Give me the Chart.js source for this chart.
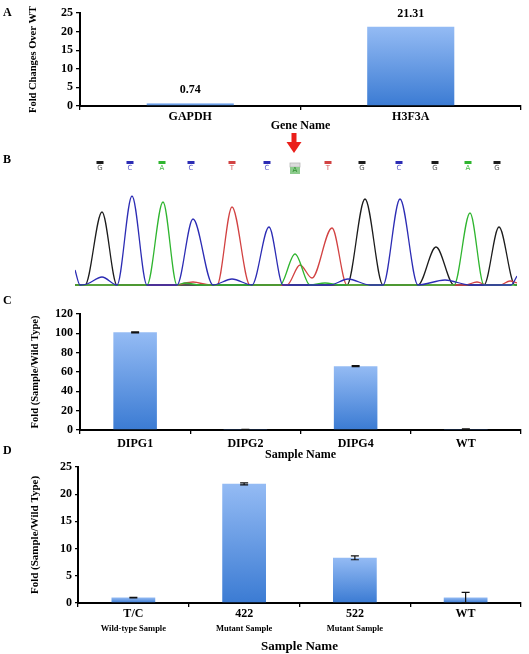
<!DOCTYPE html>
<html><head><meta charset="utf-8">
<script src="https://cdn.jsdelivr.net/npm/chart.js@4.4.1/dist/chart.umd.min.js"></script>
<style>
html,body{margin:0;padding:0;background:#fff;}
body{width:529px;height:654px;position:relative;overflow:hidden;}
canvas{position:absolute;left:0;}
.lbl{position:absolute;left:3px;font:bold 12px "Liberation Serif",serif;line-height:14px;color:#000;}
</style></head><body>
<canvas id="cA" width="529" height="134" style="top:0px"></canvas>
<canvas id="cB" width="529" height="162" style="top:130px"></canvas>
<canvas id="cC" width="529" height="163" style="top:300px"></canvas>
<canvas id="cD" width="529" height="199" style="top:455px"></canvas>
<div class="lbl" style="top:5px">A</div>
<div class="lbl" style="top:152px">B</div>
<div class="lbl" style="top:293px">C</div>
<div class="lbl" style="top:443px">D</div>
<script>
// ---------- Panel A data ----------
const geneNames = ['GAPDH', 'H3F3A'];
const geneFold = [0.74, 21.31];

// ---------- Panel B data (chromatogram, scan position vs. signal %) ----------
const baseCalls   = ['G','C','A','C','T','C','A','T','G','C','G','A','G'];
const baseCallPos = [25, 55, 87, 116, 157, 192, 220, 253, 287, 324, 360, 393, 422];
const mutationIndex = 6;
const traceG = [[0,1],[10,1],[27,74],[42,1],[100,1],[272,1],[290,87],[308,1],[343,1],[361,39],[379,1],[409,1],[424,59],[440,1],[442,1]];
const traceC = [[0,16],[5,1],[12,2],[27,9],[42,1],[57,90],[72,1],[102,1],[118,67],[138,1],[157,7],[177,1],[194,59],[208,1],[255,1],[273,7],[295,1],[308,1],[325,87],[343,1],[370,6],[395,1],[436,1],[442,10]];
const traceA = [[0,1],[72,1],[88,84],[102,1],[110,3],[125,1],[205,1],[220,32],[235,1],[250,3],[265,1],[379,1],[395,73],[409,1],[442,1]];
const traceT = [[0,1],[100,1],[118,4],[135,1],[142,1],[157,79],[175,1],[212,1],[225,21],[237,8],[257,58],[272,1],[390,1],[402,4],[412,1],[425,1],[435,5],[442,3]];

// ---------- Panel C data ----------
const dipgSamples = ['DIPG1', 'DIPG2', 'DIPG4', 'WT'];
const dipgFold = [101, 0.4, 66, 1];
const dipgErr  = [0.6, 0.2, 0.5, 0.3];

// ---------- Panel D data ----------
const tcSamples   = ['T/C', '422', '522', 'WT'];
const tcSubLabels = ['Wild-type Sample', 'Mutant Sample', 'Mutant Sample', ''];
const tcFold = [1.0, 21.9, 8.3, 1.0];
const tcErr  = [0.05, 0.2, 0.35, 0.95];

const F = '"Liberation Serif", "Times New Roman", serif';

function barGradient(c) {
  const chart = c.chart;
  if (!chart.chartArea || c.type !== 'data') return '#5b8fdc';
  const y = chart.scales.y;
  const top = y.getPixelForValue(c.raw), bot = y.getPixelForValue(0);
  if (!isFinite(top) || bot - top < 1) return '#4f84d8';
  const g = chart.ctx.createLinearGradient(0, top, 0, bot);
  g.addColorStop(0, '#94bbf4');
  g.addColorStop(1, '#3b7bd3');
  return g;
}

const errorBars = {
  id: 'errorBars',
  afterDatasetsDraw(chart, args, opts) {
    const errs = opts.errors; if (!errs) return;
    const meta = chart.getDatasetMeta(0), y = chart.scales.y, ctx = chart.ctx;
    const vals = chart.data.datasets[0].data;
    ctx.save(); ctx.strokeStyle = '#111'; ctx.lineWidth = 1.2;
    meta.data.forEach((bar, i) => {
      const yt = y.getPixelForValue(vals[i] + errs[i]);
      const yb = y.getPixelForValue(Math.max(0, vals[i] - errs[i]));
      const x = bar.x;
      ctx.beginPath();
      ctx.moveTo(x, yt); ctx.lineTo(x, yb);
      ctx.moveTo(x - 4, yt); ctx.lineTo(x + 4, yt);
      ctx.moveTo(x - 4, yb); ctx.lineTo(x + 4, yb);
      ctx.stroke();
    });
    ctx.restore();
  }
};

const valueLabels = {
  id: 'valueLabels',
  afterDatasetsDraw(chart) {
    const meta = chart.getDatasetMeta(0), ctx = chart.ctx;
    const vals = chart.data.datasets[0].data;
    ctx.save();
    ctx.font = 'bold 12px ' + F; ctx.fillStyle = '#000';
    ctx.textAlign = 'center'; ctx.textBaseline = 'middle';
    meta.data.forEach((b, i) => ctx.fillText(vals[i].toFixed(2), b.x, b.y - 13));
    ctx.restore();
  }
};

function yAxis(max, step, title, titleSize, width, titlePad, tickLen) {
  return {
    min: 0, max: max,
    ticks: { stepSize: step, color: '#000', font: { family: F, size: 12, weight: 'bold' }, padding: 3 },
    grid: { display: true, drawOnChartArea: false, drawTicks: true, tickLength: tickLen, color: '#000', lineWidth: 1.3 },
    border: { display: true, color: '#000', width: 2 },
    title: { display: true, text: title, color: '#000', font: { family: F, size: titleSize, weight: 'bold' }, padding: { top: titlePad, bottom: 0 } },
    afterFit(s) { s.width = width; }
  };
}
function xAxis(height, tickPad, title, titleSize, titlePadBottom) {
  const o = {
    offset: true, z: 1,
    ticks: { color: '#000', font: { family: F, size: 12, weight: 'bold' }, padding: tickPad, maxRotation: 0, autoSkip: false },
    grid: { display: true, drawOnChartArea: false, drawTicks: true, tickLength: 4, color: '#000', lineWidth: 1.3, offset: true },
    border: { display: true, color: '#000', width: 2 },
    afterFit(s) { s.height = height; }
  };
  if (title) o.title = { display: true, text: title, color: '#000', font: { family: F, size: titleSize, weight: 'bold' }, padding: { top: 0, bottom: titlePadBottom } };
  else o.title = { display: false };
  return o;
}
const common = { responsive: false, animation: false, events: [] };
const barDs = (data) => ({ data: data, backgroundColor: barGradient, borderWidth: 0, categoryPercentage: 1, barPercentage: 0.395 });

// ---------- Panel A ----------
new Chart(document.getElementById('cA'), {
  type: 'bar',
  data: { labels: geneNames, datasets: [barDs(geneFold)] },
  options: Object.assign({}, common, {
    layout: { padding: { left: 0, right: 8, top: 13, bottom: 0 } },
    scales: {
      x: xAxis(28, 0, 'Gene Name', 12, 1),
      y: yAxis(25, 5, 'Fold Changes Over WT', 10.5, 80, 27, 4)
    },
    plugins: { legend: { display: false }, tooltip: { enabled: false } }
  }),
  plugins: [valueLabels]
});

// ---------- Panel B ----------
const baseColors = { G: '#1c1c1c', C: '#2c2cb4', A: '#2fb52f', T: '#d24242' };
const letterColors = { G: '#555555', C: '#5a5ac8', A: '#3fb83f', T: '#d65a5a' };
const traces = [['C', traceC], ['A', traceA], ['T', traceT], ['G', traceG]];
const baseCallPlugin = {
  id: 'baseCalls',
  afterDraw(chart) {
    const ctx = chart.ctx, xs = chart.scales.x;
    ctx.save();
    ctx.textAlign = 'center'; ctx.textBaseline = 'middle';
    ctx.font = '7px "DejaVu Sans", sans-serif';
    baseCalls.forEach((b, i) => {
      const x = Math.round(xs.getPixelForValue(baseCallPos[i]));
      if (i === mutationIndex) {
        ctx.fillStyle = '#dcdcdc'; ctx.fillRect(x - 5, 33, 10, 4);
        ctx.strokeStyle = '#b8b8b8'; ctx.lineWidth = 0.8; ctx.strokeRect(x - 5, 33, 10, 4);
        ctx.fillStyle = '#8ccb8c'; ctx.fillRect(x - 5, 37, 10, 7);
        ctx.fillStyle = '#2f8f2f'; ctx.fillText(b, x, 40.5);
      } else {
        ctx.fillStyle = baseColors[b]; ctx.fillRect(x - 3.5, 31, 7, 3);
        ctx.fillStyle = letterColors[b]; ctx.fillText(b, x, 38);
      }
    });
    // red arrow over the mutated base
    const ax = xs.getPixelForValue(baseCallPos[mutationIndex]) - 1;
    ctx.fillStyle = '#ea1f1a';
    ctx.fillRect(ax - 2.5, 3, 5, 11);
    ctx.beginPath(); ctx.moveTo(ax - 7.5, 12); ctx.lineTo(ax + 7.5, 12); ctx.lineTo(ax, 23); ctx.closePath(); ctx.fill();
    ctx.restore();
  }
};
new Chart(document.getElementById('cB'), {
  type: 'line',
  data: {
    datasets: traces.map(([b, t]) => ({
      data: t.map(p => ({ x: p[0], y: p[1] })),
      borderColor: baseColors[b], borderWidth: 1.3, pointRadius: 0,
      cubicInterpolationMode: 'monotone', fill: false
    }))
  },
  options: Object.assign({}, common, {
    layout: { padding: { left: 75, right: 12, top: 56, bottom: 6 } },
    scales: {
      x: { type: 'linear', min: 0, max: 442, display: false },
      y: { min: 0, max: 100, display: false }
    },
    plugins: { legend: { display: false }, tooltip: { enabled: false } }
  }),
  plugins: [baseCallPlugin]
});

// ---------- Panel C ----------
new Chart(document.getElementById('cC'), {
  type: 'bar',
  data: { labels: dipgSamples, datasets: [barDs(dipgFold)] },
  options: Object.assign({}, common, {
    layout: { padding: { left: 0, right: 8, top: 14, bottom: 0 } },
    scales: {
      x: xAxis(33, 3, 'Sample Name', 12, 1),
      y: yAxis(120, 20, 'Fold (Sample/Wild Type)', 10.5, 80, 28.5, 4)
    },
    plugins: { legend: { display: false }, tooltip: { enabled: false }, errorBars: { errors: dipgErr } }
  }),
  plugins: [errorBars]
});

// ---------- Panel D ----------
new Chart(document.getElementById('cD'), {
  type: 'bar',
  data: { labels: tcSamples, datasets: [barDs(tcFold)] },
  options: Object.assign({}, common, {
    layout: { padding: { left: 0, right: 8, top: 12, bottom: 0 } },
    scales: {
      x: Object.assign(xAxis(18, 0, null), { weight: 0 }),
      x2: {
        type: 'category', position: 'bottom', labels: tcSubLabels, offset: true, weight: 1,
        grid: { display: false, drawTicks: false }, border: { display: false },
        ticks: { color: '#000', font: { family: F, size: 8.5, weight: 'bold' }, padding: 3, maxRotation: 0, autoSkip: false },
        title: { display: true, text: 'Sample Name', color: '#000', font: { family: F, size: 13, weight: 'bold' }, padding: { top: 0, bottom: 0 } },
        afterFit(s) { s.height = 33; }
      },
      y: yAxis(25, 5, 'Fold (Sample/Wild Type)', 11, 78, 28.4, 3)
    },
    plugins: { legend: { display: false }, tooltip: { enabled: false }, errorBars: { errors: tcErr } }
  }),
  plugins: [errorBars]
});
</script>
</body></html>
